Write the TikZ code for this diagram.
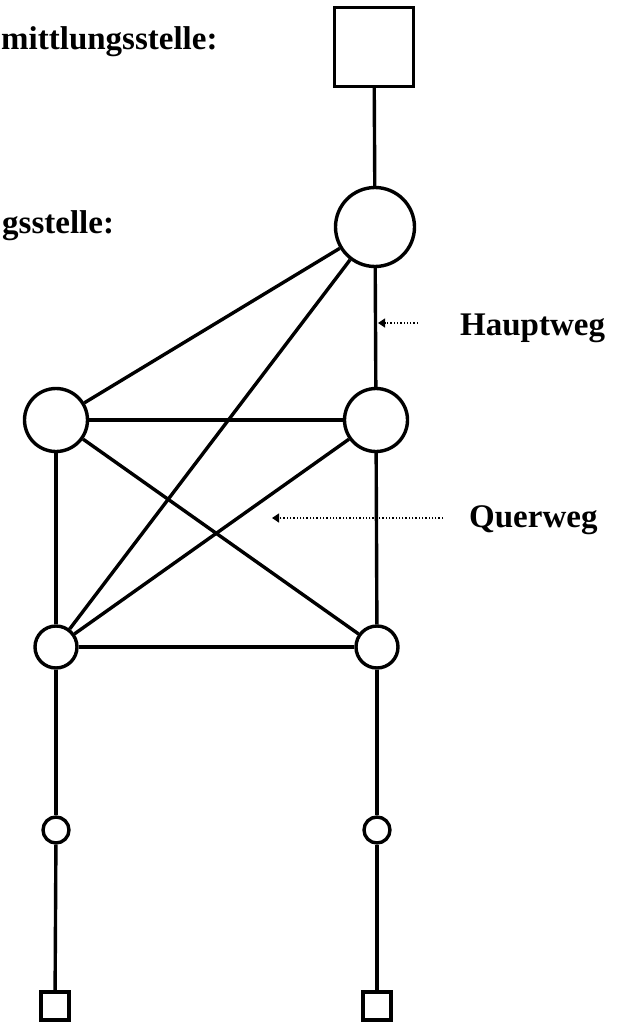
\documentclass[tikz,border=0pt]{standalone}
\usepackage{fontspec}
\setmainfont{Liberation Serif}
\usetikzlibrary{arrows.meta}
\begin{document}
\begin{tikzpicture}[x=1pt,y=-1pt,
  station/.style={draw,circle,inner sep=0pt,line width=3.4pt,fill=white},
  office/.style={draw,rectangle,inner sep=0pt,line width=3.4pt,fill=white},
  link/.style={line width=3.4pt},
  pointer/.style={line width=1.3pt,dotted,-{Triangle[length=7pt,width=9pt]}},
  caption/.style={font=\fontsize{33}{36}\selectfont\bfseries,inner sep=0pt}
]
\useasboundingbox (0,0) rectangle (629,1022);

% exchanges
\node[office,minimum size=79pt] (top) at (374,47) {};
\node[station,minimum size=79pt] (hub) at (375,227) {};
\node[station,minimum size=63pt] (ml) at (56,420) {};
\node[station,minimum size=63pt] (mr) at (376,420) {};
\node[station,minimum size=42pt] (ll) at (56,647) {};
\node[station,minimum size=42pt] (lr) at (377,647) {};
\node[station,minimum size=26pt] (sl) at (56,830) {};
\node[station,minimum size=26pt] (sr) at (377,830) {};
\node[office,minimum size=28pt] (ql) at (55,1006) {};
\node[office,minimum size=28pt] (qr) at (377,1006) {};

% trunk lines
\draw[link] (top) -- (hub);
\draw[link] (hub) -- (mr);
\draw[link] (hub) -- (ml);
\draw[link] (hub) -- (ll);
\draw[link] (ml) -- (mr);
\draw[link] (ml) -- (lr);
\draw[link] (ml) -- (ll);
\draw[link] (mr) -- (ll);
\draw[link] (mr) -- (lr);
\draw[link] (ll) -- (lr);
\draw[link] (ll) -- (sl);
\draw[link] (lr) -- (sr);
\draw[link] (sl) -- (ql);
\draw[link] (sr) -- (qr);

% labels and pointers
\node[caption,anchor=base west] (l1) at (1,50) {mittlungsstelle:};
\node[caption,anchor=base west] (l2) at (2,233) {gsstelle:};
\node[caption,anchor=base west] (haupt) at (460,335) {Hauptweg};
\node[caption,anchor=base west] (quer) at (469,527) {Querweg};

\coordinate (ht) at (418,323);
\coordinate (hh) at (378,323);
\coordinate (qt) at (443,518);
\coordinate (qh) at (272,518);
\draw[pointer] (ht) -- (hh);
\draw[pointer] (qt) -- (qh);
\end{tikzpicture}
\end{document}
